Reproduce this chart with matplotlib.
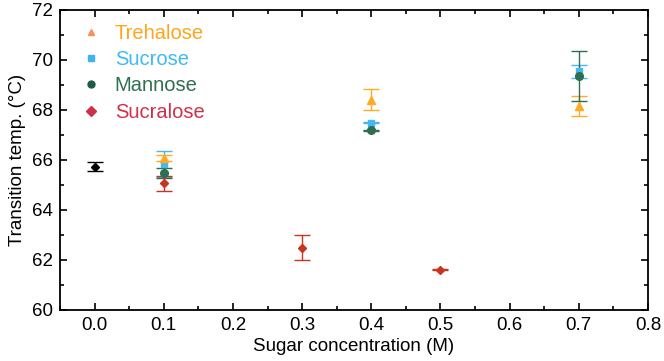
import numpy as np
import matplotlib
matplotlib.use("Agg")
import matplotlib.pyplot as plt
from matplotlib.lines import Line2D
from matplotlib.ticker import MultipleLocator

plt.rcParams['font.family'] = ['Liberation Sans', 'DejaVu Sans']

# control (no sugar)
ctrl_x = [0.0]
ctrl_y = [65.73]
ctrl_err = [0.18]

# sugars: concentration (M), transition temp (C), error
tre_x = [0.1, 0.4, 0.7]
tre_y = [66.07, 68.42, 68.17]
tre_err = [0.12, 0.40, 0.40]

suc_x = [0.1, 0.4, 0.7]
suc_y = [65.85, 67.50, 69.55]
suc_err = [0.52, 0.03, 0.27]

man_x = [0.1, 0.4, 0.7]
man_y = [65.50, 67.18, 69.35]
man_err = [0.20, 0.03, 1.00]

sucl_x = [0.1, 0.3, 0.5]
sucl_y = [65.07, 62.50, 61.62]
sucl_err = [0.30, 0.50, 0.03]

labels = ['Trehalose', 'Sucrose', 'Mannose', 'Sucralose']
text_colors = ['#FFA41B', '#3DBBF5', '#2E7050', '#D2304A']
legend_marker_colors = ['#F98F55', '#3DB3F0', '#1E5A48', '#CF3049']
legend_markers = ['^', 's', 'o', 'D']

fig = plt.figure(figsize=(6.64, 3.61), dpi=100)
ax = fig.add_axes([60 / 664, 1 - 310 / 361, 588 / 664, 300 / 361])

ekw = dict(linestyle='none', capsize=5.5, elinewidth=1.0, capthick=1.0)
ax.errorbar(ctrl_x, ctrl_y, yerr=ctrl_err, fmt='D', ms=4.5, color='black', **ekw)
ax.errorbar(suc_x, suc_y, yerr=suc_err, fmt='s', ms=4.5, color='#45B8F2', **ekw)
ax.errorbar(tre_x, tre_y, yerr=tre_err, fmt='^', ms=5.5, color='#FFAA22', **ekw)
ax.errorbar(man_x, man_y, yerr=man_err, fmt='o', ms=5.5, color='#2E6E50', **ekw)
ax.errorbar(sucl_x, sucl_y, yerr=sucl_err, fmt='D', ms=4.5, color='#C8341E', **ekw)

ax.set_xlim(-0.05, 0.8)
ax.set_ylim(60, 72)
ax.xaxis.set_major_locator(MultipleLocator(0.1))
ax.xaxis.set_minor_locator(MultipleLocator(0.05))
ax.yaxis.set_major_locator(MultipleLocator(2))
ax.yaxis.set_minor_locator(MultipleLocator(1))
ax.set_xticks(np.arange(0, 0.81, 0.1))
ax.set_xticklabels(['%.1f' % v for v in np.arange(0, 0.81, 0.1)])
ax.tick_params(which='both', direction='in', top=True, right=True, width=1.2)
ax.tick_params(which='major', length=5, labelsize=13.5, pad=5)
ax.tick_params(which='minor', length=3)
for s in ax.spines.values():
    s.set_linewidth(1.3)

ax.set_xlabel('Sugar concentration (M)', fontsize=13.5, labelpad=3)
ax.set_ylabel('Transition temp. (°C)', fontsize=13.5, labelpad=4)

handles = [Line2D([], [], linestyle='none', marker=m, color=c, ms=5)
           for m, c in zip(legend_markers, legend_marker_colors)]
leg = ax.legend(handles, labels, loc='upper left', bbox_to_anchor=(0.035, 0.954),
                frameon=False, fontsize=14.5, borderpad=0, borderaxespad=0,
                handlelength=1.0, handletextpad=0.7, labelspacing=0.36)
for t, c in zip(leg.get_texts(), text_colors):
    t.set_color(c)

fig.savefig('out.png', dpi=100)
